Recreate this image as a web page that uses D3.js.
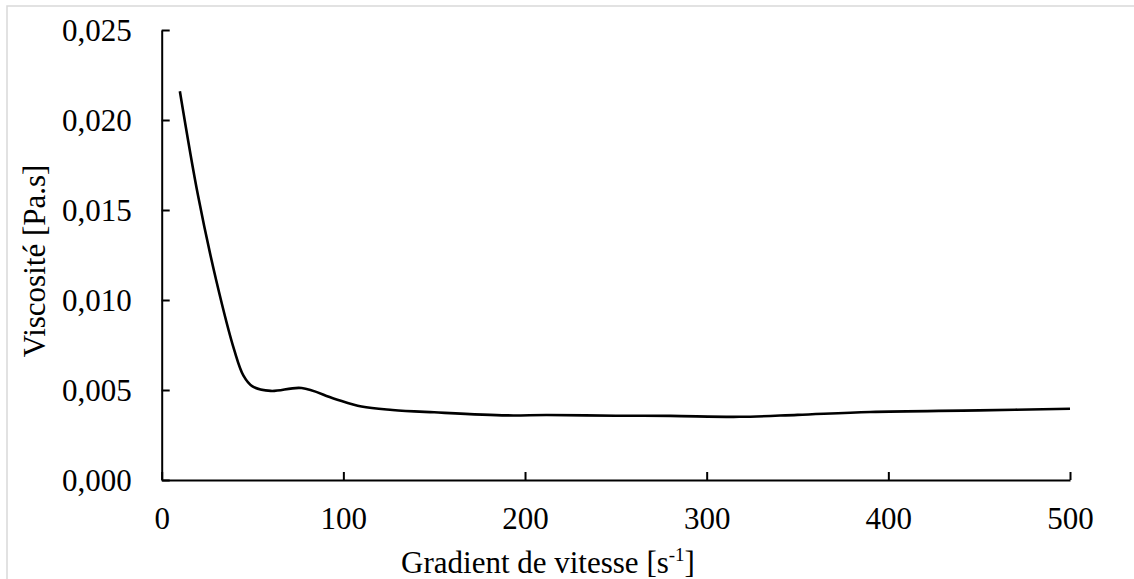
<!DOCTYPE html>
<html><head><meta charset="utf-8">
<script src="https://cdn.jsdelivr.net/npm/d3@7"></script>
<style>body{margin:0;background:#fff}svg{display:block}text{font-family:"Liberation Serif","Times New Roman",serif;fill:#000}</style>
</head><body>
<svg id="c" width="1134" height="579"></svg>
<script>
const shearRate = [10, 20, 30, 40, 45, 50, 60, 77, 95, 110, 127, 150, 190, 212, 250, 280, 318, 350, 390, 450, 500];
const viscosity = [0.0216, 0.0158, 0.0111, 0.0072, 0.0058, 0.0052, 0.00495, 0.00511, 0.00452, 0.00408, 0.00389, 0.00376, 0.00359, 0.00361, 0.00357, 0.00356, 0.00351, 0.00362, 0.00378, 0.00387, 0.00396];
const xTicks = [0, 100, 200, 300, 400, 500];
const yTicks = [0, 0.005, 0.010, 0.015, 0.020, 0.025];
const xTitle = "Gradient de vitesse [s";
const xTitleSup = "-1";
const yTitle = "Viscosité [Pa.s]";

const svg = d3.select("#c");
svg.append("rect").attr("x",7).attr("y",6).attr("width",1140).attr("height",600)
  .attr("fill","#fff").attr("stroke","#d9d9d9").attr("stroke-width",1.5);

const x = d3.scaleLinear().domain([0,500]).range([161.7,1070]);
const y = d3.scaleLinear().domain([0,0.025]).range([480,30]);
const fmt = d => d3.format(".3f")(d).replace(".", ",");

const gx = svg.append("g").attr("transform","translate(0,480)")
  .call(d3.axisBottom(x).tickValues(xTicks).tickSizeInner(-8).tickSizeOuter(0).tickPadding(0).tickFormat(d3.format("d")));
gx.select(".domain").attr("stroke","#000").attr("stroke-width",2);
gx.selectAll(".tick line").attr("stroke","#000").attr("stroke-width",2);
gx.selectAll(".tick text").attr("font-size",31).attr("font-family","Liberation Serif").attr("dy",null).attr("y",49);

const gy = svg.append("g").attr("transform","translate(161.7,0)")
  .call(d3.axisLeft(y).tickValues(yTicks).tickSizeInner(-8).tickSizeOuter(0).tickPadding(30).tickFormat(fmt));
gy.select(".domain").attr("stroke","#000").attr("stroke-width",2);
gy.selectAll(".tick line").attr("stroke","#000").attr("stroke-width",2);
gy.selectAll(".tick text").attr("font-size",31).attr("font-family","Liberation Serif").attr("x",-30).attr("dy","0.34em");

const pts = shearRate.map((s,i)=>[s, viscosity[i]]);
svg.append("path").datum(pts)
  .attr("d", d3.line().x(d=>x(d[0])).y(d=>y(d[1])).curve(d3.curveCatmullRom.alpha(0.5)))
  .attr("fill","none").attr("stroke","#000").attr("stroke-width",2.6).attr("stroke-linejoin","round");

const t = svg.append("text").attr("x",548).attr("y",573).attr("text-anchor","middle").attr("font-size",31);
t.append("tspan").text(xTitle);
t.append("tspan").attr("font-size",19).attr("dy",-12).text(xTitleSup);
t.append("tspan").attr("dy",12).text("]");

svg.append("text").attr("transform","translate(45,261) rotate(-90)").attr("text-anchor","middle")
  .attr("font-size",31).text(yTitle);
</script>
</body></html>
